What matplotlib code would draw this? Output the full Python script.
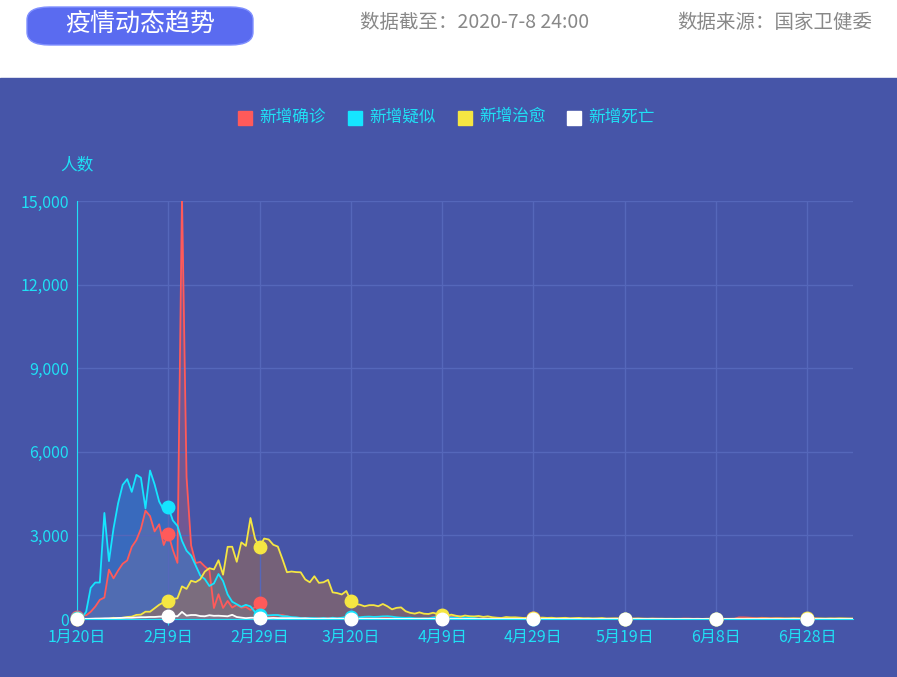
import numpy as np
import matplotlib
matplotlib.use("Agg")
import matplotlib.pyplot as plt
from matplotlib.patches import Rectangle, FancyBboxPatch

plt.rcParams['font.family'] = ['Noto Sans CJK SC', 'DejaVu Sans']

confirmed_jan = [77,149,131,259,444,688,769,1771,1459,1737,1982,2102]
confirmed_feb = [2590,2829,3235,3887,3694,3143,3399,2656,3062,2478,2015,15152,5090,2641,2009,2048,1886,1749,394,889,397,648,409,508,406,433,327,427,573]
confirmed_mar = [202,125,119,139,143,99,44,40,19,24,15,8,11,20,16,21,13,34,39,41,46,39,78,47,67,55,54,45,31,48,36]
confirmed_apr = [35,31,19,30,39,32,62,63,42,46,99,108,89,46,26,27,16,27,20,12,30,11,10,12,11,5,3,6,22,4]
confirmed_may = [1,2,1,2,1,2,4,1,1,14,5,7,6,4,5,8,11,6,8,7,8,6,8,5,7,11,2,5,3,2,2]
confirmed_jun = [16,11,6,8,3,5,6,3,5,6,11,8,57,57,49,40,28,44,32,26,22,29,21,13,19,17,21,12,19,19]
confirmed_jul = [3,3,5,8,4,5,7,7]

suspect_jan = [27,26,257,1118,1309,1309,3806,2077,3248,4148,4812,5019]
suspect_feb = [4562,5173,5072,3971,5328,4833,4214,3916,4008,3536,3342,2807,2450,2277,1918,1563,1432,1185,1277,1614,1361,882,620,530,439,508,452,248,132]
suspect_mar = [141,129,143,143,102,99,68,60,36,31,33,33,17,39,12,45,23,45,73,66,47,61,80,86,74,81,94,98,85,60,48]
suspect_apr = [40,47,27,22,26,22,53,72,55,47,56,45,92,50,44,38,14,17,13,7,6,8,7,8,5,3,4,2,2,3]
suspect_may = [2,3,1,2,1,3,2,4,3,6,4,5,3,2,4,6,5,3,4,2,3,2,4,3,5,4,2,3,2,1,2]
suspect_jun = [3,2,4,3,2,3,2,4,3,2,5,6,8,9,7,6,5,6,4,5,3,4,3,2,4,3,2,3,2,3]
suspect_jul = [2,3,2,1,2,3,2,2]

cured_jan = [0,0,0,6,3,11,2,9,43,21,47,72]
cured_feb = [85,147,157,262,261,387,510,600,632,716,744,1171,1081,1373,1323,1425,1701,1824,1779,2109,1590,2589,2593,2053,2750,2624,3622,2885,2589]
cured_mar = [2888,2852,2664,2598,2154,1678,1704,1683,1677,1421,1318,1535,1297,1318,1404,956,930,880,1004,650,540,513,456,496,498,458,539,456,346,400,416]
cured_apr = [279,221,193,238,190,180,224,180,150,107,158,117,84,125,99,93,108,75,96,63,46,37,70,58,60,48,35,55,45,40]
cured_may = [50,38,45,30,36,42,28,35,40,25,30,22,26,35,18,20,24,18,15,12,16,20,12,10,14,9,12,8,10,7,9]
cured_jun = [6,8,5,7,4,9,6,5,4,6,7,5,8,6,12,10,14,18,20,15,22,18,16,20,24,18,15,20,22,18]
cured_jul = [20,16,22,18,25,20,18,16]

death_jan = [0,3,8,8,16,15,24,26,26,38,43,46]
death_feb = [45,57,64,65,73,73,86,89,97,108,97,254,121,143,142,105,98,136,114,118,109,97,150,71,52,29,44,47,35]
death_mar = [42,31,38,31,30,28,27,22,17,22,11,7,13,10,14,13,11,8,3,7,9,7,4,6,5,3,5,1,3,4,7]
death_apr = [6,4,4,3,1,2,2,2,1,3,0,1,0,0,2,0,0,1,0,0,0,0,0,0,0,0,0,0,0,0]
death_may = [0]*31
death_jun = [0]*30
death_jul = [0]*8

confirmed = confirmed_jan+confirmed_feb+confirmed_mar+confirmed_apr+confirmed_may+confirmed_jun+confirmed_jul
suspect = suspect_jan+suspect_feb+suspect_mar+suspect_apr+suspect_may+suspect_jun+suspect_jul
cured = cured_jan+cured_feb+cured_mar+cured_apr+cured_may+cured_jun+cured_jul
death = death_jan+death_feb+death_mar+death_apr+death_may+death_jun+death_jul

tick_labels = ['1月20日','2月9日','2月29日','3月20日','4月9日','4月29日','5月19日','6月8日','6月28日']
series_names = ['新增确诊','新增疑似','新增治愈','新增死亡']
y_ticks = [0,3000,6000,9000,12000,15000]

W, H = 897, 677
fig = plt.figure(figsize=(W/100, H/100), dpi=100)
fig.patch.set_facecolor('white')
bg = '#4655A8'
fig.patches.append(Rectangle((0, 0), 1, (H-78)/H, transform=fig.transFigure, color=bg, zorder=-10))
fig.patches.append(FancyBboxPatch((27/W, (H-45)/H), 226/W, 38/H, boxstyle="round,pad=0,rounding_size=0.025",
                                  transform=fig.transFigure, fc='#5A6BF0', ec='#8090ff', lw=1, zorder=-5,
                                  mutation_aspect=H/W))
fig.text(140/W, 1-25/H, '疫情动态趋势', color='white', fontsize=18, ha='center', va='center')
fig.text(360/W, 1-22/H, '数据截至：2020-7-8 24:00', color='#888888', fontsize=14, ha='left', va='center')
fig.text(872/W, 1-22/H, '数据来源：国家卫健委', color='#888888', fontsize=14, ha='right', va='center')

ax = fig.add_axes([77/W, 1-619/H, (853-77)/W, (619-201)/H])
ax.set_zorder(5)
ax.set_facecolor('none')
x = np.arange(len(confirmed))
cols = ['#FF5A5A', '#15E5FF', '#F5E642', '#FFFFFF']
data = [confirmed, suspect, cured, death]
fills = [('#c06070', 0.35), ('#2a85d8', 0.45), ('#b07040', 0.45), ('#ffffff', 0.1)]
for d, c, (fc, a) in zip(data, cols, fills):
    ax.fill_between(x, d, color=fc, alpha=a, lw=0)
for d, c in zip(data, cols):
    ax.plot(x, d, color=c, lw=1.3)
    idx = x[::20]
    ax.plot(idx, np.array(d)[idx], 'o', color=c, ms=9, clip_on=False, zorder=5)

ax.set_xlim(0, len(confirmed)-1)
ax.set_ylim(0, 15000)
ax.set_xticks(x[::20])
ax.set_xticklabels(tick_labels)
ax.set_yticks(y_ticks)
ax.set_yticklabels([f'{v:,}' for v in y_ticks])
ax.tick_params(colors='#1FE0F5', labelsize=11.5, length=4)
ax.tick_params(axis='y', length=0, pad=6)
ax.grid(True, color='#5567BA', lw=1)
for s in ['top', 'right']:
    ax.spines[s].set_visible(False)
for s in ['left', 'bottom']:
    ax.spines[s].set_color('#1FE0F5')
fig.text(77/W, 1-165/H, '人数', color='#1FE0F5', fontsize=12, ha='center', va='center')

legx = [238, 348, 458, 567]
for lx, c, n in zip(legx, cols, series_names):
    fig.patches.append(Rectangle((lx/W, 1-125/H), 14/W, 14/H, transform=fig.transFigure, color=c, zorder=3))
    fig.text((lx+21)/W, 1-117/H, n, color='#1FE0F5', fontsize=12, ha='left', va='center')

fig.savefig('out.png', dpi=100, facecolor=fig.get_facecolor())
